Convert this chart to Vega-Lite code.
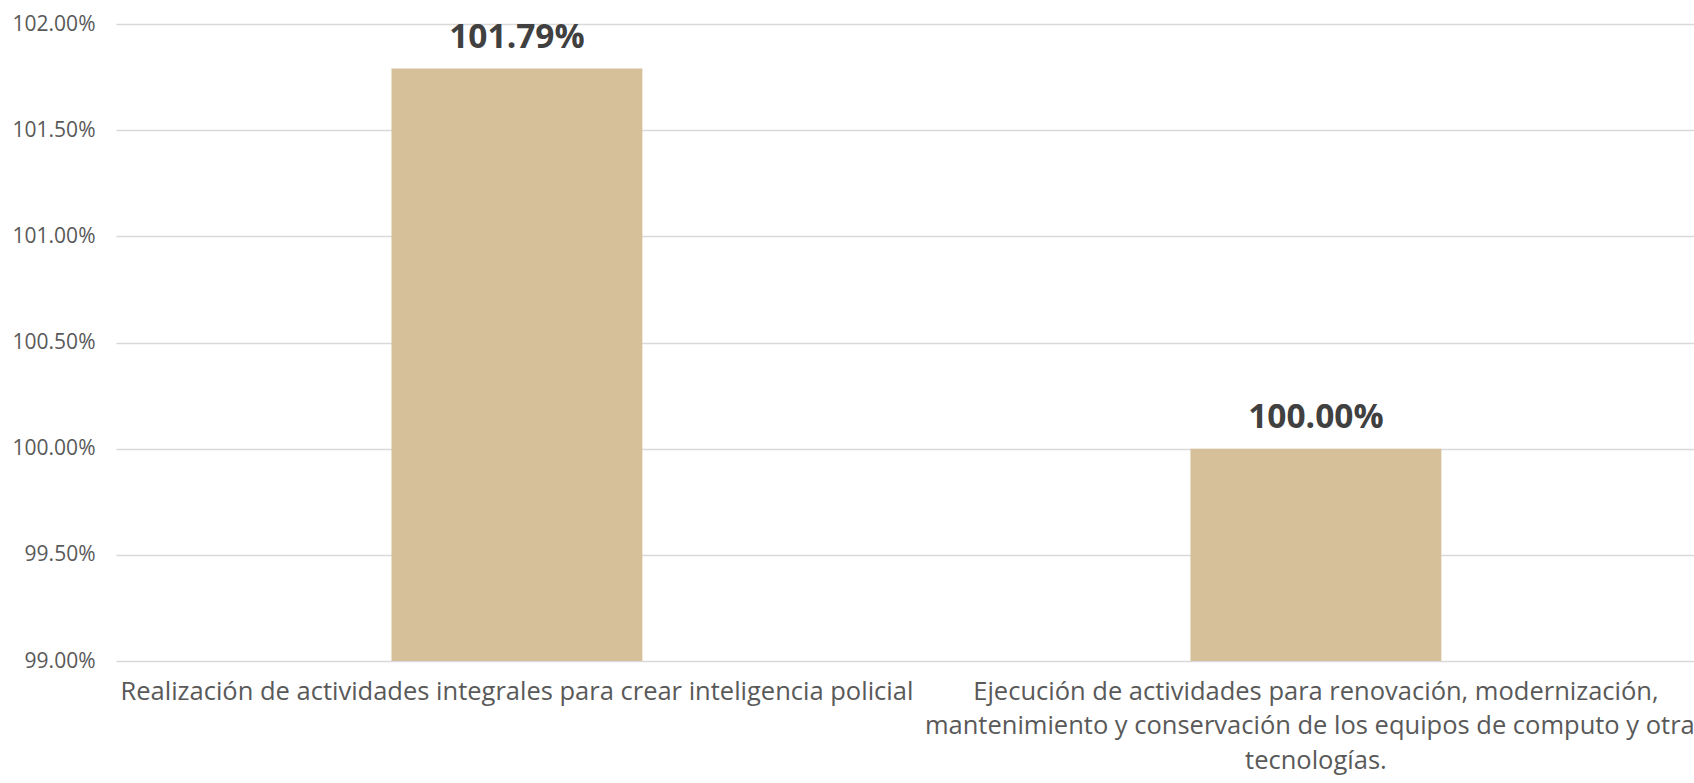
{
  "$schema": "https://vega.github.io/schema/vega-lite/v6.json",
  "autosize": {"type": "none"},
  "padding": {"left": 116, "top": 24, "right": 0, "bottom": 122},
  "width": 1578,
  "height": 637,
  "background": "white",
  "config": {"view": {"stroke": null}, "font": "Open Sans"},
  "data": {
    "values": [
      {"actividad": "Realización de actividades integrales para crear inteligencia policial", "pct": 1.0179},
      {"actividad": "Ejecución de actividades para renovación, modernización,\nmantenimiento y conservación de los equipos de computo y otras\ntecnologías.", "pct": 1.0}
    ]
  },
  "encoding": {
    "x": {
      "field": "actividad",
      "type": "nominal",
      "sort": null,
      "title": null,
      "scale": {"paddingInner": 0.686, "paddingOuter": 0.3305, "align": 0.5216},
      "axis": {
        "labelAngle": 0,
        "labelExpr": "split(datum.value, '\\n')",
        "labelFont": "Open Sans",
        "labelFontSize": 25.5,
        "labelColor": "#595959",
        "labelLineHeight": 34.5,
        "labelPadding": 18,
        "labelLimit": 3000,
        "labelOverlap": false,
        "labelBound": false,
        "ticks": false,
        "domain": false,
        "grid": false
      }
    }
  },
  "layer": [
    {
      "mark": {"type": "bar", "color": "#D5C09A"},
      "encoding": {
        "y": {
          "field": "pct",
          "type": "quantitative",
          "title": null,
          "scale": {"domain": [0.99, 1.02], "zero": false, "nice": false},
          "axis": {
            "values": [0.99, 0.995, 1.0, 1.005, 1.01, 1.015, 1.02],
            "format": ".2%",
            "labelFont": "Open Sans",
            "labelFontSize": 21,
            "labelColor": "#595959",
            "labelPadding": 21,
            "ticks": false,
            "domain": false,
            "gridColor": "#D9D9D9",
            "gridWidth": 1.5
          }
        },
        "y2": {"datum": 0.99}
      }
    },
    {
      "mark": {"type": "text", "font": "Open Sans", "fontWeight": "bold", "fontSize": 33.5, "color": "#404040", "baseline": "alphabetic", "dy": -21},
      "encoding": {
        "y": {"field": "pct", "type": "quantitative"},
        "text": {"field": "pct", "type": "quantitative", "format": ".2%"}
      }
    }
  ]
}
